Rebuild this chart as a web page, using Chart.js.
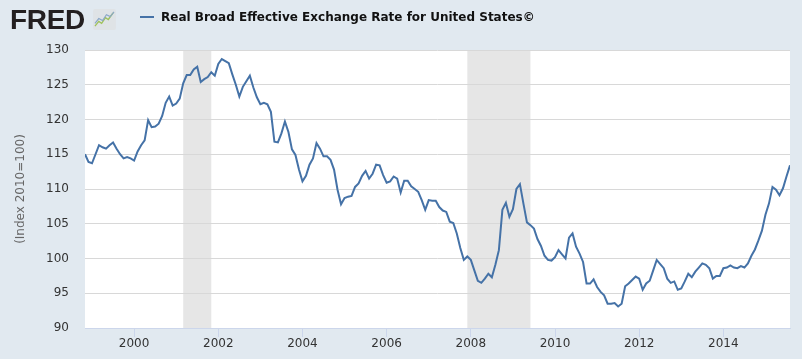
<!DOCTYPE html>
<html>
<head>
<meta charset="utf-8">
<script src="https://cdn.jsdelivr.net/npm/chart.js@4.4.0/dist/chart.umd.min.js"></script>
<style>
  html, body { margin:0; padding:0; background:#e1e9f0; }
  #wrap { position:relative; width:802px; height:359px; overflow:hidden; background:#e1e9f0; }
  canvas { position:absolute; left:0; top:0; }
  #fred { position:absolute; left:10px; top:4px; font-family:"Liberation Sans", Arial, sans-serif; font-weight:bold; font-size:28px; letter-spacing:-0.3px; color:#231f20; }
  #icon { position:absolute; left:93px; top:9px; }
  #legend { position:absolute; left:140px; top:10px; font-family:"DejaVu Sans", Verdana, sans-serif; font-weight:bold; font-size:12px; color:#111; white-space:nowrap; }
  #legend .ln { display:inline-block; width:14px; height:2px; background:#4572a7; vertical-align:middle; margin-right:7px; position:relative; top:-1px; }
</style>
</head>
<body>
<div id="wrap">
  <canvas id="c" width="802" height="359"></canvas>
  <div id="fred">FRED</div>
  <svg id="icon" width="23" height="21" viewBox="0 0 24 22">
    <rect x="0" y="0" width="24" height="22" rx="2" fill="#dfe3e6"/>
    <polyline points="2,18 6,13 9,15 13,9 16,11 21,4" fill="none" stroke="#9fc25a" stroke-width="1.4"/>
    <polyline points="2,15 6,10 10,12 14,6 18,8 22,3" fill="none" stroke="#8aa7c8" stroke-width="1.2"/>
  </svg>
  <div id="legend"><span class="ln"></span>Real Broad Effective Exchange Rate for United States©</div>
</div>
<script>
// ---- data ----
const startYear = 1998, startMonth = 11;
const values = [
  115.0, 113.9, 113.7, 115.0, 116.3, 116.0, 115.8, 116.3, 116.7, 115.8, 115.0, 114.4, 114.6, 114.4,
  114.1, 115.4, 116.3, 117.0, 119.9, 118.9, 119.0, 119.4, 120.5, 122.4, 123.3, 122.0,
  122.3, 123.0, 125.2, 126.4, 126.4, 127.2, 127.6, 125.4, 125.8, 126.1, 126.8, 126.3,
  128.0, 128.7, 128.4, 128.1, 126.5, 125.0, 123.3, 124.7, 125.5, 126.3, 124.6, 123.2,
  122.2, 122.4, 122.2, 121.1, 116.8, 116.7, 118.0, 119.7, 118.2, 115.7, 114.9, 112.8,
  111.1, 111.9, 113.5, 114.4, 116.6, 115.8, 114.7, 114.7, 114.2, 112.8, 109.9, 107.8,
  108.7, 108.9, 109.0, 110.3, 110.8, 111.9, 112.6, 111.5, 112.2, 113.5, 113.4, 112.0,
  110.9, 111.1, 111.8, 111.5, 109.5, 111.2, 111.2, 110.4, 110.0, 109.6, 108.4, 107.0,
  108.4, 108.3, 108.3, 107.4, 106.9, 106.7, 105.3, 105.1, 103.6, 101.5, 99.8, 100.3,
  99.8, 98.3, 96.8, 96.5, 97.1, 97.8, 97.3, 99.1, 101.2, 107.0, 108.0, 106.0,
  107.1, 110.0, 110.7, 107.9, 105.2, 104.8, 104.3, 102.8, 101.8, 100.4, 99.8, 99.7,
  100.2, 101.2, 100.6, 100.0, 103.0, 103.6, 101.7, 100.7, 99.5, 96.4, 96.4, 97.0,
  95.9, 95.2, 94.7, 93.5, 93.5, 93.6, 93.1, 93.5, 96.0, 96.4, 96.9, 97.4,
  97.1, 95.5, 96.4, 96.8, 98.3, 99.8, 99.2, 98.6, 97.1, 96.5, 96.7, 95.5,
  95.7, 96.7, 97.8, 97.3, 98.1, 98.7, 99.3, 99.1, 98.6, 97.1, 97.5, 97.5,
  98.6, 98.7, 99.0, 98.7, 98.6, 98.9, 98.7, 99.3, 100.4, 101.3, 102.6, 104.0,
  106.3, 107.9, 110.3, 109.9, 109.1, 110.1, 111.8, 113.4
];
const dates = values.map((_, i) => {
  const m0 = startMonth - 1 + i;
  const y = startYear + Math.floor(m0 / 12);
  const m = (m0 % 12) + 1;
  return y + '-' + String(m).padStart(2, '0');
});
const xTickYears = ['2000', '2002', '2004', '2006', '2008', '2010', '2012', '2014'];
const yTicks = [90, 95, 100, 105, 110, 115, 120, 125, 130];
const recessions = [['2001-03', '2001-11'], ['2007-12', '2009-06']];
const seriesName = 'Real Broad Effective Exchange Rate for United States©';

const xTickIdx = xTickYears.map(y => dates.indexOf(y + '-01'));

const bgPlugin = {
  id: 'bg',
  beforeDraw(chart) {
    const { ctx, chartArea: a, scales: { x } } = chart;
    ctx.save();
    ctx.fillStyle = '#ffffff';
    ctx.fillRect(a.left, a.top, a.right - a.left, a.bottom - a.top);
    ctx.fillStyle = '#e6e6e6';
    recessions.forEach(([s, e]) => {
      const x0 = x.getPixelForValue(dates.indexOf(s));
      const x1 = x.getPixelForValue(dates.indexOf(e));
      ctx.fillRect(x0, a.top, x1 - x0, a.bottom - a.top);
    });
    ctx.restore();
  }
};

const tickFont = { family: '"DejaVu Sans", Verdana, sans-serif', size: 12 };

new Chart(document.getElementById('c'), {
  type: 'line',
  data: {
    datasets: [{
      label: seriesName,
      data: values.map((v, i) => ({ x: i, y: v })),
      borderColor: '#4572a7',
      borderWidth: 2,
      pointRadius: 0,
      tension: 0,
      fill: false
    }]
  },
  options: {
    responsive: false,
    animation: false,
    devicePixelRatio: 1,
    layout: { padding: { top: 50, right: 12, left: 0, bottom: 0 } },
    plugins: { legend: { display: false }, tooltip: { enabled: false } },
    scales: {
      x: {
        type: 'linear',
        min: 0,
        max: values.length - 1,
        afterBuildTicks: s => { s.ticks = xTickIdx.map(v => ({ value: v })); },
        afterFit: s => { s.height = 31; },
        ticks: {
          autoSkip: false, maxRotation: 0, padding: 0,
          font: tickFont, color: '#333333',
          callback: v => dates[v] ? dates[v].slice(0, 4) : ''
        },
        grid: { drawOnChartArea: false, drawTicks: true, tickLength: 9, color: '#ccd6eb' },
        border: { display: true, color: '#ccd6eb' }
      },
      y: {
        min: yTicks[0],
        max: yTicks[yTicks.length - 1],
        afterBuildTicks: s => { s.ticks = yTicks.map(v => ({ value: v })); },
        afterFit: s => { s.width = 85; },
        ticks: { font: tickFont, color: '#333333', padding: 16 },
        grid: { color: '#d8d8d8', drawTicks: false },
        border: { display: false },
        title: {
          display: true,
          text: '(Index 2010=100)',
          color: '#666666',
          font: { family: '"DejaVu Sans", Verdana, sans-serif', size: 12 },
          padding: { top: 14, bottom: 0 }
        }
      }
    }
  },
  plugins: [bgPlugin]
});
</script>
</body>
</html>
